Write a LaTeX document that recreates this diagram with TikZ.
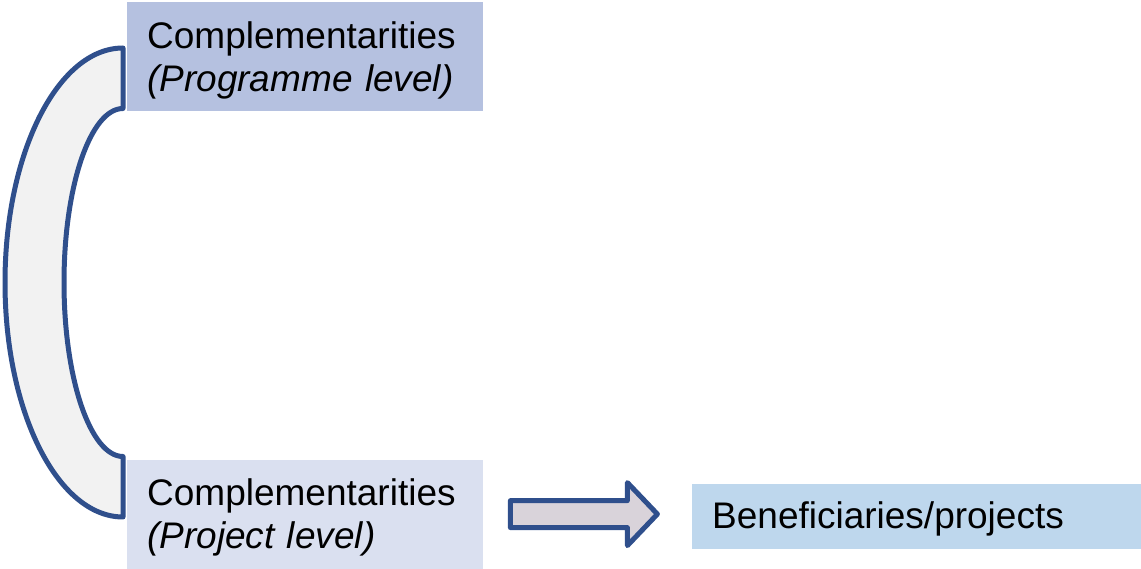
\documentclass[tikz,border=0pt]{standalone}
\usepackage{fontspec}
\setmainfont{Liberation Sans}
\usepackage{tikz}
\usetikzlibrary{calc}
\usetikzlibrary{positioning}

\definecolor{progfill}{HTML}{B5C1E0}
\definecolor{projfill}{HTML}{DAE0F0}
\definecolor{benffill}{HTML}{BED7ED}
\definecolor{linkblue}{HTML}{2F4F8C}
\definecolor{arrowfill}{HTML}{D9D3DA}

\tikzset{
  levelbox/.style={rectangle, anchor=north west, align=left, text width=316pt, inner xsep=20pt, inner ysep=0pt, minimum height=109pt, text height=34pt, font=\fontsize{37}{43}\selectfont},
  benfbox/.style={rectangle, anchor=south west, align=left, text width=409pt, inner xsep=20pt, inner ysep=0pt, minimum height=65pt, text height=31.5pt, font=\fontsize{37}{43}\selectfont},
  linkline/.style={draw=linkblue, line width=5pt, line join=round}
}

\begin{document}
\begin{tikzpicture}[x=1pt,y=1pt]
\useasboundingbox (0,0) rectangle (1141,568);

\node[levelbox, fill=progfill] (prog) at (127,566) {Complementarities\\\textit{(Programme level)}};
\node[levelbox, fill=projfill, below=348pt of prog] (proj) {Complementarities\\\textit{(Project level)}};
\node[benfbox, fill=benffill] (benf) at (692,19) {Beneficiaries/projects};

% bracket joining the two levels
\path[linkline, fill=black!5] (123,520) arc[start angle=90, end angle=270, x radius=118pt, y radius=234.5pt]
  -- (123,111.5) arc[start angle=270, end angle=90, x radius=59pt, y radius=174pt] -- cycle;

% block arrow to the beneficiaries
\path[linkline, fill=arrowfill] ($(proj.east)+(27,13.5)$) -- ++(117,0) -- ++(0,18) -- ($(proj.east)+(174,0)$)
  -- ++(-30,-31.5) -- ++(0,18) -- ++(-117,0) -- cycle;
\end{tikzpicture}
\end{document}
